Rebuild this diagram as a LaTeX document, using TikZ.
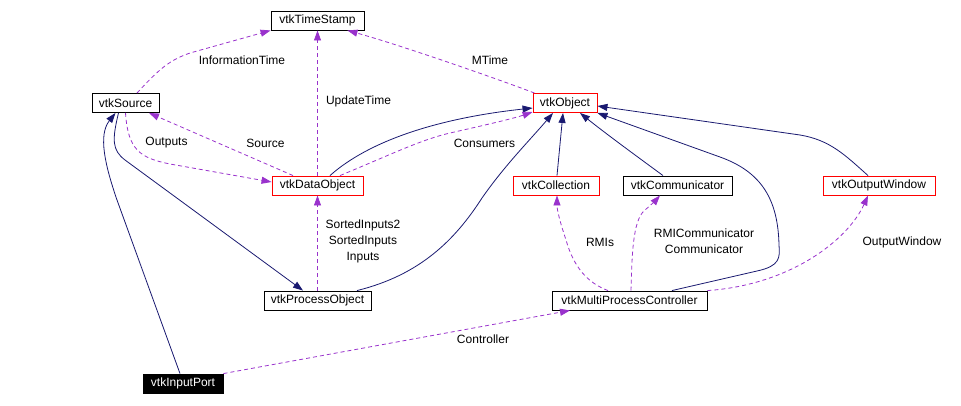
\documentclass[tikz,border=0pt]{standalone}
\usepackage{fontspec}
\setmainfont{Liberation Sans}
\usepackage{xcolor}
\definecolor{EdgeNavy}{RGB}{25,25,112}
\definecolor{EdgePurple}{RGB}{153,50,204}
\definecolor{BorderRed}{RGB}{255,0,0}
\usepackage{tikz}
\usetikzlibrary{arrows.meta, calc, positioning}
\tikzset{
  % class box
  cbox/.style={
    rectangle, draw=black, line width=0.9pt,
    fill=white, minimum height=19pt, inner sep=0pt,
    font=\fontsize{12}{14}\selectfont
  },
  cbox red/.style={cbox, draw=BorderRed},
  cbox dark/.style={cbox, fill=black, text=white},
  % inheritance and usage arrows
  inh/.style={-{Triangle[length=10pt,width=7pt]}, draw=EdgeNavy, line width=0.8pt},
  use/.style={-{Triangle[length=10pt,width=7pt]}, draw=EdgePurple, line width=0.8pt,
    dash pattern=on 4pt off 3pt},
  % edge label
  elabel/.style={font=\fontsize{12}{16}\selectfont, align=center, inner sep=0pt},
}

\begin{document}
\begin{tikzpicture}[x=1pt, y=1pt]

  \useasboundingbox (0,0) rectangle (961,-405);

  %% Classes
  \node[cbox, minimum width=93pt] (ts) at (317.5,-20.5) {vtkTimeStamp};
  \node[cbox, minimum width=67pt] (src) at (125.5,-103) {vtkSource};
  \node[cbox red, minimum width=64pt] (obj) at (565,-103) {vtkObject};
  \node[cbox red, minimum width=91pt] (dobj) at (317.5,-185.5) {vtkDataObject};
  \node[cbox red, minimum width=86pt] (coll) at (556,-185.5) {vtkCollection};
  \node[cbox, minimum width=109pt] (comm) at (677.5,-185.5) {vtkCommunicator};
  \node[cbox red, minimum width=112pt] (outw) at (879,-185.5) {vtkOutputWindow};
  \node[cbox, minimum width=107pt] (proc) at (317.5,-300.5) {vtkProcessObject};
  \node[cbox, minimum width=155pt] (mpc) at (629.5,-300.5) {vtkMultiProcessController};
  \node[cbox dark, minimum width=80pt] (inport) at (183,-383.5) {vtkInputPort};

  %% Inheritance
  \draw[inh] ($(dobj.north)+(12.5,0)$) .. controls (370,-140) and (440,-118) .. ($(obj.west)+(0,-5)$);
  \draw[inh] ($(proc.north)+(39.5,0)$) .. controls (420,-275) and (455,-240) .. (482,-198)
    .. controls (505,-165) and (530,-140) .. ($(obj.south)+(-12,0)$);
  \draw[inh] ($(coll.north)+(1,0)$) -- ($(obj.south)+(-2,0)$);
  \draw[inh] ($(comm.north)+(-14.5,0)$) .. controls (635,-155) and (605,-133) .. ($(obj.south)+(15,0)$);
  \draw[inh] ($(mpc.north)+(42.5,0)$) -- (757,-271) .. controls (780,-266) and (780,-258) .. (779,-245)
    .. controls (778,-200) and (762,-172) .. (720,-157) -- (obj.south east);
  \draw[inh] ($(outw.north)+(-11,0)$) .. controls (845,-155) and (830,-140) .. (800,-135)
    -- ($(obj.east)+(0,-3)$);
  \draw[inh] ($(src.south)+(-7,0)$) .. controls (112,-140) and (112,-150) .. (125,-160)
    -- ($(proc.north)+(-14.5,0)$);
  \draw[inh] ($(inport.north)+(-3,0)$) -- (117,-200) .. controls (105,-165) and (98,-135)
    .. ($(src.south)+(-10,0)$);

  %% Members
  \draw[use] ($(src.north)+(11.5,0)$) .. controls (160,-68) and (170,-60) .. (190,-53) -- (ts.south west);
  \draw[use] (dobj.north) -- (ts.south);
  \draw[use] ($(obj.north west)+(2,0)$) .. controls (495,-78) and (400,-45) .. ($(ts.south east)+(-17,0)$);
  \draw[use] ($(dobj.north)+(-24.5,0)$) -- ($(src.south)+(23.5,0)$);
  \draw[use] (src.south) .. controls (128,-150) and (140,-158) .. (170,-164) -- ($(dobj.west)+(0,3.5)$);
  \draw[use] ($(dobj.north)+(22.5,0)$) .. controls (390,-155) and (420,-140) .. (450,-133)
    .. controls (490,-124) and (515,-118) .. ($(obj.west)+(0,-9)$);
  \draw[use] (proc.north) -- (dobj.south);
  \draw[use] ($(mpc.north)+(-21.5,0)$) .. controls (588,-283) and (574,-268) .. (566,-240)
    .. controls (560,-222) and (557,-210) .. ($(coll.south)+(1,0)$);
  \draw[use] ($(mpc.north)+(1.5,0)$) .. controls (632,-260) and (632,-220) .. (645,-210)
    .. controls (652,-204) and (656,-200) .. ($(comm.south)+(-17.5,0)$);
  \draw[use] (mpc.north east) .. controls (790,-285) and (848,-240) .. ($(outw.south)+(-11,0)$);
  \draw[use] (inport.north east) -- ($(mpc.south)+(-59.5,0)$);

  %% Labels
  \node[elabel] (linfo) at (242,-60) {InformationTime};
  \node[elabel] (lmtime) at (490,-60) {MTime};
  \node[elabel] (lupd) at (358.5,-101) {UpdateTime};
  \node[elabel] (lout) at (166.5,-143) {Outputs};
  \node[elabel] (lsrc) at (265.5,-143) {Source};
  \node[elabel] (lcons) at (484.5,-143) {Consumers};
  \node[elabel] (linp) at (363,-241) {SortedInputs2\\SortedInputs\\Inputs};
  \node[elabel] (lrmi) at (600,-242) {RMIs};
  \node[elabel] (lcomm) at (704,-241) {RMICommunicator\\Communicator};
  \node[elabel] (lwin) at (902,-242) {OutputWindow};
  \node[elabel] (lctrl) at (483,-339) {Controller};

\end{tikzpicture}
\end{document}
